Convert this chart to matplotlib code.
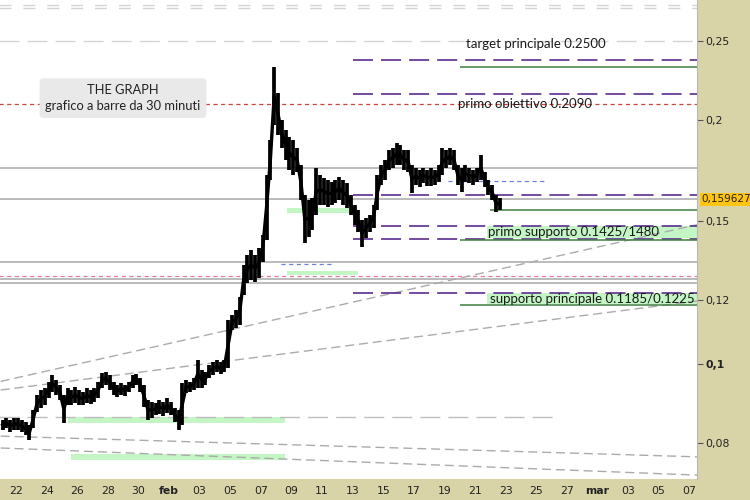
import matplotlib
matplotlib.use("Agg")
import matplotlib.pyplot as plt
import numpy as np
import pandas as pd

plt.rcParams['lines.scale_dashes'] = False

# ---------------- data ----------------
# 6-hour high/low ranges summarising the 30-minute bars, starting 2018-01-21
bar_high = [
    0.0854, 0.0859, 0.0854, 0.0859,  # Jan 21
    0.0859, 0.0854, 0.0849, 0.0842,  # Jan 22
    0.0879, 0.0917, 0.0930, 0.0935,  # Jan 23
    0.0952, 0.0971, 0.0957, 0.0943,  # Jan 24
    0.0917, 0.0935, 0.0930, 0.0938,  # Jan 25
    0.0930, 0.0925, 0.0935, 0.0930,  # Jan 26
    0.0935, 0.0952, 0.0976, 0.0978,  # Jan 27
    0.0971, 0.0952, 0.0943, 0.0949,  # Jan 28
    0.0943, 0.0952, 0.0971, 0.0973,  # Jan 29
    0.0962, 0.0943, 0.0904, 0.0899,  # Jan 30
    0.0897, 0.0904, 0.0899, 0.0909,  # Jan 31
    0.0899, 0.0884, 0.0879, 0.0949,  # Feb 1
    0.0957, 0.0952, 0.0962, 0.1012,  # Feb 2
    0.0984, 0.0978, 0.0998, 0.1006,  # Feb 3
    0.1012, 0.1006, 0.1012, 0.1134,  # Feb 4
    0.1150, 0.1167, 0.1210, 0.1326,  # Feb 5
    0.1364, 0.1384, 0.1364, 0.1392,  # Feb 6
    0.1444, 0.1712, 0.1890, 0.2324,  # Feb 7
    0.2159, 0.2000, 0.1944, 0.1906,  # Feb 8
    0.1890, 0.1847, 0.1761, 0.1617,  # Feb 9
    0.1594, 0.1603, 0.1746, 0.1712,  # Feb 10
    0.1697, 0.1687, 0.1678, 0.1687,  # Feb 11
    0.1702, 0.1687, 0.1673, 0.1617,  # Feb 12
    0.1572, 0.1550, 0.1507, 0.1516,  # Feb 13
    0.1528, 0.1572, 0.1712, 0.1761,  # Feb 14
    0.1786, 0.1837, 0.1847, 0.1874,  # Feb 15
    0.1863, 0.1837, 0.1837, 0.1761,  # Feb 16
    0.1746, 0.1736, 0.1746, 0.1736,  # Feb 17
    0.1746, 0.1736, 0.1761, 0.1847,  # Feb 18
    0.1837, 0.1847, 0.1837, 0.1761,  # Feb 19
    0.1746, 0.1761, 0.1746, 0.1736,  # Feb 20
    0.1746, 0.1811, 0.1726, 0.1687,  # Feb 21
    0.1664, 0.1617, 0.1603,          # Feb 22
]
bar_low = [
    0.0830, 0.0835, 0.0825, 0.0830,
    0.0830, 0.0825, 0.0818, 0.0807,
    0.0835, 0.0874, 0.0884, 0.0891,
    0.0909, 0.0925, 0.0917, 0.0904,
    0.0847, 0.0891, 0.0891, 0.0897,
    0.0891, 0.0891, 0.0897, 0.0894,
    0.0899, 0.0909, 0.0935, 0.0943,
    0.0930, 0.0917, 0.0912, 0.0917,
    0.0915, 0.0925, 0.0935, 0.0943,
    0.0925, 0.0886, 0.0854, 0.0859,
    0.0866, 0.0869, 0.0864, 0.0871,
    0.0866, 0.0849, 0.0830, 0.0842,
    0.0922, 0.0925, 0.0930, 0.0935,
    0.0935, 0.0943, 0.0962, 0.0971,
    0.0978, 0.0973, 0.0978, 0.0990,
    0.1102, 0.1108, 0.1118, 0.1217,
    0.1260, 0.1271, 0.1264, 0.1278,
    0.1337, 0.1423, 0.1687, 0.1972,
    0.1917, 0.1847, 0.1786, 0.1736,
    0.1712, 0.1726, 0.1594, 0.1411,
    0.1436, 0.1464, 0.1528, 0.1572,
    0.1572, 0.1563, 0.1572, 0.1581,
    0.1594, 0.1572, 0.1559, 0.1528,
    0.1485, 0.1456, 0.1396, 0.1432,
    0.1456, 0.1472, 0.1550, 0.1664,
    0.1687, 0.1736, 0.1746, 0.1761,
    0.1761, 0.1736, 0.1726, 0.1626,
    0.1664, 0.1654, 0.1673, 0.1659,
    0.1659, 0.1664, 0.1678, 0.1712,
    0.1746, 0.1761, 0.1736, 0.1664,
    0.1631, 0.1678, 0.1673, 0.1664,
    0.1678, 0.1687, 0.1654, 0.1617,
    0.1594, 0.1541, 0.1550,
]
bar_first = "2018-01-21 03:00"
last_price = 0.159627

tick_dates = ["2018-01-22", "2018-01-24", "2018-01-26", "2018-01-28", "2018-01-30",
              "2018-02-01", "2018-02-03", "2018-02-05", "2018-02-07", "2018-02-09",
              "2018-02-11", "2018-02-13", "2018-02-15", "2018-02-17", "2018-02-19",
              "2018-02-21", "2018-02-23", "2018-02-25", "2018-02-27", "2018-03-01",
              "2018-03-03", "2018-03-05", "2018-03-07"]
tick_labels = ["22", "24", "26", "28", "30", "feb", "03", "05", "07", "09", "11", "13",
               "15", "17", "19", "21", "23", "25", "27", "mar", "03", "05", "07"]
y_ticks = [0.08, 0.1, 0.12, 0.15, 0.2, 0.25]
y_tick_labels = ["0,08", "0,1", "0,12", "0,15", "0,2", "0,25"]

# levels
gray_levels = [0.1745, last_price, 0.1336, 0.1275, 0.1260]
purple_levels = [0.2371, 0.2153, 0.1617, 0.1480, 0.1425, 0.1225]
purple_start = "2018-02-13 00:00"
green_levels = [0.2324, 0.1423, 0.1185, 0.1550]
green_start = ["2018-02-20 00:00", "2018-02-20 00:00", "2018-02-20 00:00", "2018-02-22 00:00"]
target_level = 0.2500
top_levels = [0.2770, 0.2745]
obiettivo_level = 0.2090
pink_level = 0.1285
blue_segments = [(0.1683, "2018-02-19 05:45", "2018-02-25 17:00"),
                 (0.1330, "2018-02-08 07:45", "2018-02-11 17:00")]
old_support = (0.0862, "2018-01-20 00:00", "2018-02-26 05:30")
bands = [  # (low, high, start, end)
    (0.1537, 0.1559, "2018-02-08 17:00", "2018-02-12 20:00"),
    (0.1289, 0.1303, "2018-02-08 17:00", "2018-02-13 08:00"),
    (0.1432, 0.1481, "2018-02-21 18:45", "2018-03-09 00:00"),
    (0.1186, 0.1224, "2018-02-21 18:45", "2018-03-09 00:00"),
    (0.0847, 0.0862, "2018-01-25 09:30", "2018-02-08 14:00"),
    (0.0763, 0.0776, "2018-01-25 14:00", "2018-02-08 14:00"),
]
trendlines = [  # (start date, start price, end date, end price)
    ("2018-01-21", 0.0953, "2018-03-08", 0.1493),
    ("2018-01-21", 0.0930, "2018-03-08", 0.1200),
    ("2018-01-21", 0.0816, "2018-03-08", 0.0769),
    ("2018-01-21", 0.0789, "2018-03-08", 0.0730),
]

# ---------------- figure ----------------
BG = '#d8d4a8'
fig = plt.figure(figsize=(7.5, 5.0), dpi=100, facecolor=BG)
ax = fig.add_axes([0, 21 / 500, 697 / 750, 479 / 500])
ax.set_facecolor('white')
ax.set_yscale('log')
T = pd.Timestamp
ax.set_xlim(T("2018-01-20 22:54"), T("2018-03-07 12:15"))
ax.set_ylim(0.07226, 0.2810)

far_left, far_right = T("2018-01-15"), T("2018-03-12")

# bands
for lo_, hi_, s, e in bands:
    ax.fill_between([T(s), T(e)], lo_, hi_, color='#c4f5c4', lw=0, zorder=1)

# top dashed & target lines
for lv in top_levels:
    ax.hlines(lv, far_left, far_right, color='#d4d4d4', lw=1.0, linestyles=(0, (8.6, 8.6)), zorder=2)
ax.hlines(target_level, far_left, far_right, color='#d4d4d4', lw=1.0, linestyles=(0, (14.4, 5.8)), zorder=2)
ax.hlines(old_support[0], T(old_support[1]), T(old_support[2]), color='#bdbdbd', lw=1.0,
          linestyles=(0, (14.4, 5.8)), zorder=2)

# gray solid
for lv in gray_levels:
    ax.hlines(lv, far_left, far_right, color='#a8a8a8', lw=1.1, zorder=2)

# red and pink dashed
ax.hlines(obiettivo_level, far_left, far_right, color='#c8463c', lw=0.9, linestyles=(0, (3, 2.5)), zorder=2)
ax.hlines(pink_level, far_left, far_right, color='#e47aa2', lw=0.9, linestyles=(0, (3, 2.5)), zorder=2)

# blue dashed segments
for lv, s, e in blue_segments:
    ax.hlines(lv, T(s), T(e), color='#6f7fe0', lw=0.9, linestyles=(0, (3, 2.5)), zorder=2)

# trend lines
for s, p0, e, p1 in trendlines:
    ax.plot([T(s), T(e)], [p0, p1], color='#ababab', lw=1.0, ls=(0, (6.5, 3.5)), zorder=2)

# purple dashed
for lv in purple_levels:
    ax.hlines(lv, T(purple_start), far_right, color='#5b2c8f', lw=1.2,
              linestyles=(0, (14.4, 5.8)), zorder=3)

# green solid
for lv, s in zip(green_levels, green_start):
    ax.hlines(lv, T(s), far_right, color='#3f7f3f', lw=1.1, zorder=3)

# price bars
times = pd.date_range(bar_first, periods=len(bar_high), freq="6h")
hi = np.array(bar_high)
lo = np.array(bar_low)
ax.vlines(times, lo, hi, color='black', lw=2.7, zorder=5)
ax.plot(times, np.sqrt(hi * lo), color='black', lw=2.4, zorder=5, solid_joinstyle='miter')

# texts
ax.text(0.1765, 0.795, "THE GRAPH\ngrafico a barre da 30 minuti", transform=ax.transAxes,
        ha='center', va='center', fontsize=9.3, family='Lato', color='#222222', linespacing=1.4,
        bbox=dict(boxstyle='round,pad=0.45,rounding_size=0.3', fc='#e9e9e9', ec='none'), zorder=6)
label_kw = dict(transform=ax.transAxes, ha='left', va='center', fontsize=9.5, family='Lato',
                color='#1a1a1a', zorder=6)
ax.text(0.6686, 0.9081, "target principale 0.2500", **label_kw)
ax.text(0.6571, 0.7829, "primo obiettivo 0.2090", **label_kw)
ax.text(0.7001, 0.5157, "primo supporto 0.1425/1480", **label_kw)
ax.text(0.7030, 0.3758, "supporto principale 0.1185/0.1225", **label_kw)

# axes styling
for sp in ['top', 'left', 'bottom']:
    ax.spines[sp].set_visible(False)
ax.spines['right'].set_color('#b8b8b8')
ax.spines['right'].set_linewidth(0.8)

ax.yaxis.tick_right()
ax.yaxis.set_minor_locator(matplotlib.ticker.NullLocator())
ax.set_yticks(y_ticks)
ax.set_yticklabels(y_tick_labels)
ax.tick_params(axis='y', which='major', direction='out', length=4, width=0.8, color='#555555',
               labelsize=7.8, labelcolor='#222222', pad=2)
for lbl in ax.get_yticklabels():
    if lbl.get_text() == "0,1":
        lbl.set_fontweight('bold')

ax.set_xticks([T(d) for d in tick_dates])
ax.set_xticklabels(tick_labels)
ax.tick_params(axis='x', length=0, labelsize=7.8, labelcolor='#222222', pad=5)
for lbl in ax.get_xticklabels():
    if lbl.get_text() in ("feb", "mar"):
        lbl.set_fontweight('bold')

# current price tag
ax.text(1.006, last_price, "0,159627", transform=ax.get_yaxis_transform(), ha='left', va='center',
        fontsize=7.5, color='#222222', clip_on=False,
        bbox=dict(boxstyle='square,pad=0.15', fc='#ffc414', ec='none'), zorder=7)

fig.savefig("out.png", dpi=100, facecolor=BG)
